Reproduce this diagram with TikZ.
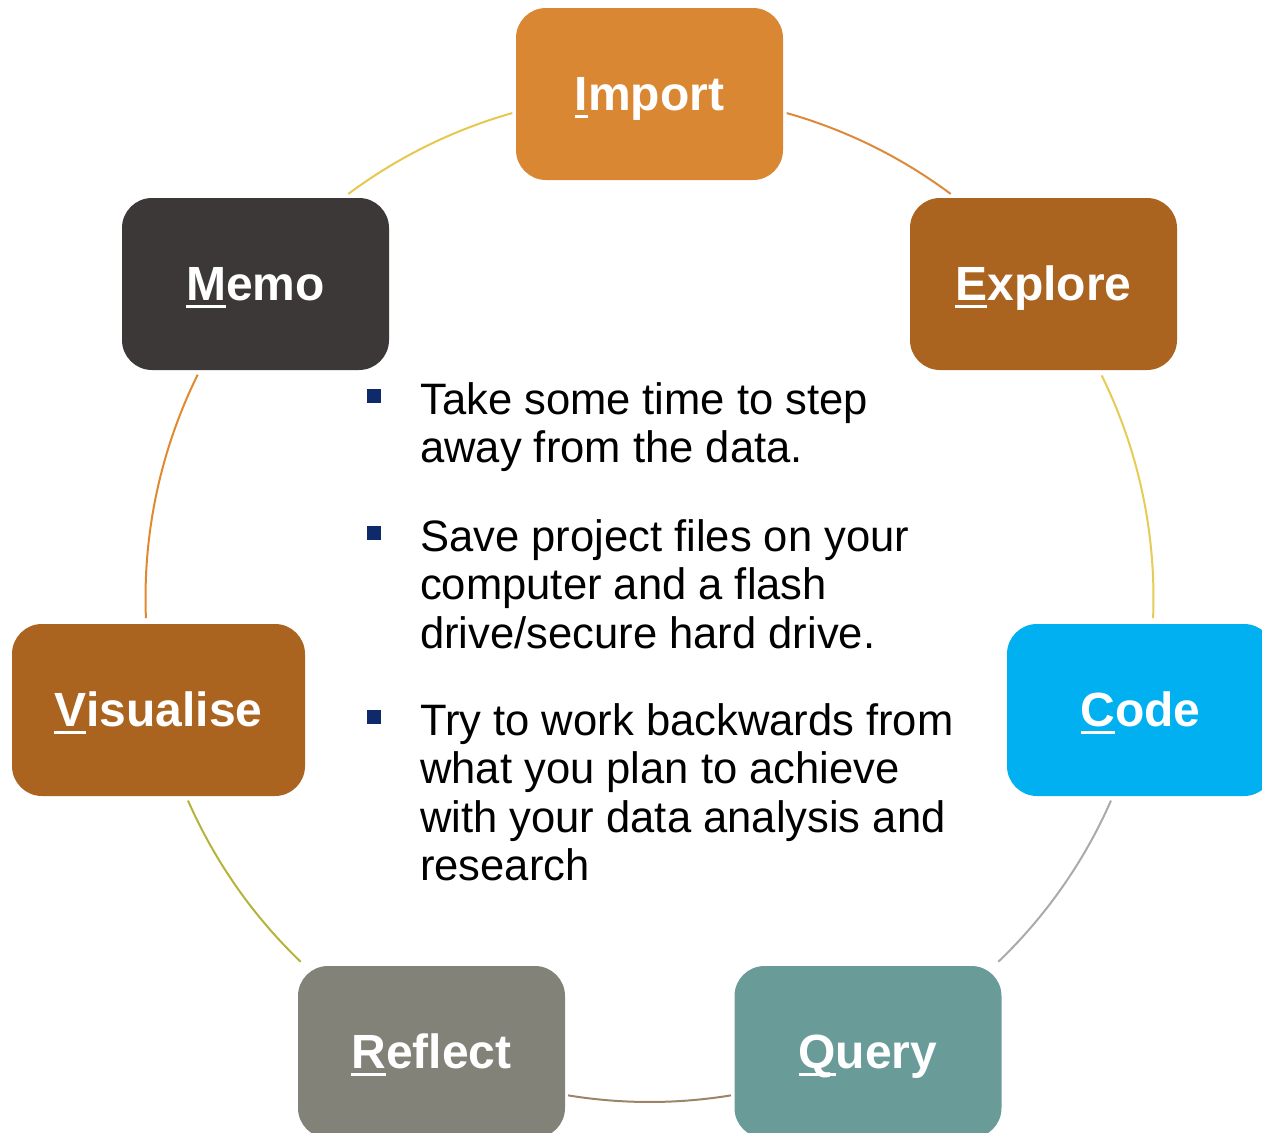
\documentclass[tikz,border=0pt]{standalone}
\usepackage{fontspec}
\setmainfont{Liberation Sans}
\newfontfamily\bodyface{Liberation Sans}[FakeStretch=0.99]

% stage colours
\definecolor{importc}{HTML}{DA8733}
\definecolor{explorec}{HTML}{AA6420}
\definecolor{codec}{HTML}{00B0F0}
\definecolor{queryc}{HTML}{699C99}
\definecolor{reflectc}{HTML}{828279}
\definecolor{visualc}{HTML}{AB6420}
\definecolor{memoc}{HTML}{3D3838}
\definecolor{bulletc}{HTML}{0F2A6A}
% ring segment colours
\definecolor{ringA}{HTML}{DC8A3A}
\definecolor{ringB}{HTML}{E6CB55}
\definecolor{ringC}{HTML}{AAAAAA}
\definecolor{ringD}{HTML}{9C8466}
\definecolor{ringE}{HTML}{B4B43C}
\definecolor{ringF}{HTML}{E08A30}
\definecolor{ringG}{HTML}{E6C84E}

% underline the access-key letter of a stage name
\newsavebox\keybox
\newcommand\keyul[1]{\sbox\keybox{#1}\rlap{\rule[-8pt]{\wd\keybox}{3pt}}\usebox\keybox}

\begin{document}
\begin{tikzpicture}[x=1pt,y=1pt,
  stage/.style={rounded corners=30pt, minimum width=267pt, minimum height=172pt,
    inner sep=0pt, text=white, font=\bfseries\fontsize{48}{56}\selectfont,
    text height=32pt, text depth=0pt},
  link/.style={line width=2pt},
  bodyline/.style={anchor=base west, inner sep=0pt, text=black,
    font=\bodyface\fontsize{44}{48}\selectfont},
  bulletsq/.style={fill=bulletc, minimum size=14pt, inner sep=0pt}]
\useasboundingbox (0,0) rectangle (1262,-1133);
\clip (0,0) rectangle (1262,-1133);

% centre of the cycle
\coordinate (hub) at (649.5,-598);

% stages
\node[stage, fill=importc]  (import)  at (649.5,-94)   {\keyul{I}mport};
\node[stage, fill=explorec] (explore) at (1043.5,-284) {\keyul{E}xplore};
\node[stage, fill=codec]    (code)    at (1140.5,-710) {\keyul{C}ode};
\node[stage, fill=queryc]   (query)   at (868,-1052)   {\keyul{Q}uery};
\node[stage, fill=reflectc] (reflect) at (431.5,-1052) {\keyul{R}eflect};
\node[stage, fill=visualc, minimum width=293pt] (visual) at (158.5,-710) {\keyul{V}isualise};
\node[stage, fill=memoc]    (memo)    at (255.5,-284)  {\keyul{M}emo};

% ring segments between neighbouring stages
\draw[link, ringA] ([shift={(74.2:504pt)}]hub)   arc[start angle=74.2,  end angle=53.3,   radius=504pt];
\draw[link, ringB] ([shift={(26.2:504pt)}]hub)   arc[start angle=26.2,  end angle=-2.3,   radius=504pt];
\draw[link, ringC] ([shift={(-23.7:504pt)}]hub)  arc[start angle=-23.7, end angle=-46.2,  radius=504pt];
\draw[link, ringD] ([shift={(-80.7:504pt)}]hub)  arc[start angle=-80.7, end angle=-99.3,  radius=504pt];
\draw[link, ringE] ([shift={(-133.8:504pt)}]hub) arc[start angle=-133.8,end angle=-156.3, radius=504pt];
\draw[link, ringF] ([shift={(182.3:504pt)}]hub)  arc[start angle=182.3, end angle=153.7,  radius=504pt];
\draw[link, ringG] ([shift={(126.7:504pt)}]hub)  arc[start angle=126.7, end angle=105.8,  radius=504pt];

% advice list in the middle
\node[bulletsq] (b1) at (374,-396) {};
\node[bodyline] (t1a) at (420,-414) {Take some time to step};
\node[bodyline] (t1b) at (420,-462) {away from the data.};

\node[bulletsq] (b2) at (374,-533) {};
\node[bodyline] (t2a) at (420,-551) {Save project files on your};
\node[bodyline] (t2b) at (420,-599) {computer and a flash};
\node[bodyline] (t2c) at (420,-648) {drive/secure hard drive.};

\node[bulletsq] (b3) at (374,-717) {};
\node[bodyline] (t3a) at (420,-735) {Try to work backwards from};
\node[bodyline] (t3b) at (420,-783) {what you plan to achieve};
\node[bodyline] (t3c) at (420,-832) {with your data analysis and};
\node[bodyline] (t3d) at (420,-880) {research};
\end{tikzpicture}
\end{document}
